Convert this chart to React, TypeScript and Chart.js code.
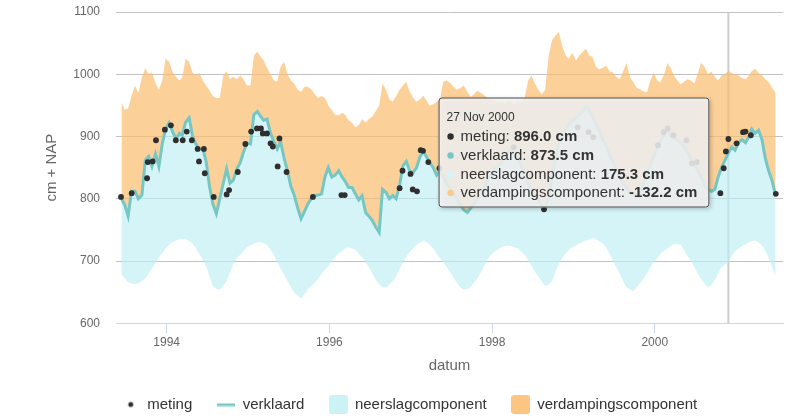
import React, { useEffect, useRef } from "react";
import { Chart, registerables } from "chart.js";

Chart.register(...registerables);

const FONT = "'Liberation Sans', Arial, Helvetica, sans-serif";

// Half-monthly series (12th and 27th of each month), June 1993 .. June 2001
const startJaar = 1993;
const startMaand = 6;
const dagen = [12, 27];

const verklaard = [
  800, 790, 772, 812, 812, 800, 806, 862, 868, 852, 872, 852, 888, 912, 922, 908, 896, 905, 902, 923,
  930, 900, 888, 880, 880, 860, 820, 792, 776, 800, 825, 848, 825, 830, 848, 858, 875, 889, 888, 935,
  940, 932, 926, 928, 905, 892, 880, 892, 865, 845, 820, 806, 785, 768, 780, 792, 800, 805, 806, 808,
  835, 850, 835, 838, 845, 835, 828, 818, 818, 808, 798, 805, 778, 772, 765, 755, 746, 815, 810, 800,
  805, 800, 822, 853, 860, 845, 842, 850, 868, 876, 868, 858, 850, 838, 845, 835, 825, 815, 808, 798,
  790, 782, 778, 785, 792, 800, 812, 818, 830, 838, 848, 852, 858, 866, 874, 880, 872, 865, 852, 840,
  825, 815, 805, 798, 788, 786, 800, 835, 865, 888, 900, 912, 920, 925, 930, 935, 940, 948, 942, 932,
  920, 910, 895, 885, 870, 860, 845, 835, 825, 818, 810, 806, 803, 808, 825, 838, 855, 868, 882, 892,
  905, 910, 902, 898, 894, 890, 882, 875, 862, 855, 845, 835, 822, 815, 812, 815, 835, 850, 862, 873.5,
  883, 878, 890, 895, 890, 900, 912, 905, 910, 895, 865, 845, 828, 806,
];

// upper edge of the evaporation band (verklaard - verdampingscomponent)
const verdampingBovengrens = [
  955, 943, 945, 965, 982, 970, 995, 1010, 1000, 1003, 985, 975, 990, 1025, 1020, 1004, 996, 990, 995, 1025,
  1020, 1003, 998, 1002, 990, 982, 974, 965, 962, 962, 998, 1005, 992, 996, 992, 998, 992, 982, 982, 1030,
  1036, 1028, 1022, 1010, 1000, 990, 988, 1012, 1020, 1000, 990, 985, 975, 972, 980, 980, 976, 968, 962, 965,
  962, 950, 942, 935, 934, 938, 935, 926, 922, 915, 918, 928, 922, 928, 932, 940, 950, 985, 975, 960,
  956, 965, 975, 982, 988, 972, 962, 956, 960, 966, 958, 950, 952, 956, 960, 988, 990, 986, 980, 975,
  978, 982, 972, 964, 968, 974, 970, 966, 962, 960, 958, 955, 956, 952, 958, 955, 952, 958, 955, 962,
  990, 998, 985, 975, 968, 975, 1030, 1055, 1062, 1068, 1045, 1030, 1025, 1035, 1022, 1030, 1036, 1041, 1030, 1028,
  1012, 1008, 1010, 1014, 1005, 1003, 996, 992, 1005, 1018, 995, 987, 978, 976, 972, 971, 990, 1003, 990, 987,
  1000, 1018, 1010, 998, 990, 984, 988, 992, 990, 985, 1000, 1018, 1012, 1000, 1004, 996, 990, 998, 1000, 1005.7,
  1002, 1000, 998, 994, 992, 998, 1005, 1009, 1002, 998, 992, 987, 978, 970,
];

// lower edge of the precipitation band (verklaard - neerslagcomponent)
const neerslagOndergrens = [
  678, 672, 666, 664, 663, 664, 668, 672, 680, 688, 697, 706, 713, 720, 726, 730, 733, 735, 736, 735,
  732, 728, 720, 712, 702, 692, 675, 660, 655, 654, 660, 668, 682, 696, 704, 710, 716, 722, 725, 728,
  730, 730, 728, 726, 718, 710, 698, 688, 678, 668, 658, 650, 644, 640, 647, 655, 660, 665, 672, 680,
  686, 692, 700, 706, 712, 716, 720, 722, 720, 718, 712, 706, 698, 690, 680, 670, 663, 658, 658, 662,
  668, 675, 687, 698, 707, 714, 720, 726, 730, 733, 730, 726, 720, 712, 705, 698, 690, 682, 673, 665,
  658, 654, 655, 658, 665, 672, 682, 692, 702, 710, 715, 718, 722, 724, 725, 724, 722, 720, 715, 710,
  702, 692, 683, 675, 667, 660, 662, 668, 682, 695, 705, 712, 718, 722, 725, 728, 731, 733, 735, 737,
  735, 732, 728, 722, 712, 700, 690, 680, 668, 658, 654, 652, 658, 665, 672, 680, 690, 698, 705, 712,
  716, 720, 724, 727, 727, 726, 718, 708, 700, 690, 680, 672, 664, 658, 662, 670, 680, 690, 694, 698.2,
  708, 716, 720, 724, 727, 730, 732, 733, 730, 725, 716, 705, 690, 675,
];

const metingDatums = [
  "1993-06-10", "1993-07-28", "1993-10-05", "1993-10-08", "1993-10-30", "1993-11-14",
  "1993-12-24", "1994-01-20", "1994-02-11", "1994-03-14", "1994-04-01", "1994-04-24",
  "1994-05-20", "1994-05-26", "1994-06-17", "1994-06-21", "1994-07-31", "1994-09-27",
  "1994-10-08", "1994-11-16", "1994-12-20", "1995-01-15", "1995-02-10", "1995-02-28",
  "1995-03-08", "1995-03-27", "1995-04-12", "1995-04-22", "1995-05-14", "1995-05-22",
  "1995-06-23", "1995-10-19", "1996-02-24", "1996-03-10", "1996-11-12", "1996-11-25",
  "1996-12-31", "1997-01-10", "1997-01-29", "1997-02-15", "1997-02-25", "1997-03-21",
  "1997-05-10", "1998-04-08", "1998-08-22", "1999-01-20", "1999-03-10", "1999-03-31",
  "2000-01-15", "2000-02-10", "2000-02-28", "2000-03-25", "2000-05-22", "2000-06-16",
  "2000-07-08", "2000-10-22", "2000-11-06", "2000-11-16", "2000-11-27", "2001-01-03",
  "2001-02-01", "2001-02-12", "2001-03-08", "2001-06-28",
];

const metingWaarden = [
  803, 809, 833, 859, 860, 894,
  911, 918, 894, 894, 908, 894,
  880, 860, 880, 841, 803, 807,
  814, 843, 888, 908, 913, 913,
  905, 905, 889, 884, 852, 897,
  843, 803, 806, 806, 817, 845,
  840, 815, 812, 878, 877, 859,
  849, 883, 783, 915, 907, 899,
  886, 907, 913, 902, 894, 857,
  859, 809, 849, 876, 896.0, 889,
  907, 908, 902, 808,
];

const yTicks = [600, 700, 800, 900, 1000, 1100];
const xTickJaren = [1994, 1996, 1998, 2000];
const xMin = 1993.377;
const xMax = 2001.576;
const tooltipDatum = "2000-11-27";
const maandNamen = ["Jan", "Feb", "Mar", "Apr", "May", "Jun", "Jul", "Aug", "Sep", "Oct", "Nov", "Dec"];

const KLEUR_METING = "#2f2f2f";
const KLEUR_VERKLAARD = "#76c7c4";
const KLEUR_NEERSLAG_VLAK = "rgba(190,238,243,0.65)";
const KLEUR_VERDAMPING_VLAK = "rgba(251,188,110,0.7)";
const KLEUR_NEERSLAG_LEGENDA = "#cbf2f5";
const KLEUR_VERDAMPING_LEGENDA = "#fdc582";

const reeksDatums = verklaard.map((_, i) => {
  const m = startMaand - 1 + Math.floor(i / 2);
  const y = startJaar + Math.floor(m / 12);
  const mm = (m % 12) + 1;
  return `${y}-${String(mm).padStart(2, "0")}-${dagen[i % 2]}`;
});

function jaarFractie(d: string): number {
  const [y, m, dd] = d.split("-").map(Number);
  const t = Date.UTC(y, m - 1, dd);
  const a = Date.UTC(y, 0, 1);
  const b = Date.UTC(y + 1, 0, 1);
  return y + (t - a) / (b - a);
}

function maakMarker(kind: string, color: string): HTMLCanvasElement {
  const c = document.createElement("canvas");
  if (kind === "dot") {
    c.width = 10; c.height = 10;
    const g = c.getContext("2d")!;
    g.fillStyle = color; g.beginPath(); g.arc(5, 5, 2.5, 0, Math.PI * 2); g.fill();
  } else if (kind === "line") {
    c.width = 18; c.height = 4;
    const g = c.getContext("2d")!;
    g.fillStyle = color; g.fillRect(0, 1, 18, 2.5);
  } else {
    c.width = 19; c.height = 19;
    const g = c.getContext("2d")!;
    g.fillStyle = color; g.beginPath();
    (g as any).roundRect(0, 0, 19, 19, 3); g.fill();
  }
  return c;
}

export default function App() {
  const ref = useRef<HTMLCanvasElement | null>(null);

  useEffect(() => {
    if (!ref.current) return;
    const xs = reeksDatums.map(jaarFractie);
    const verklaardPts = xs.map((x, i) => ({ x, y: verklaard[i] }));
    const neerslagPts = xs.map((x, i) => ({ x, y: neerslagOndergrens[i] }));
    const verdampingPts = xs.map((x, i) => ({ x, y: verdampingBovengrens[i] }));
    const metingPts = metingDatums.map((d, i) => ({ x: jaarFractie(d), y: metingWaarden[i] }));

    const markers = [
      { text: "meting", style: maakMarker("dot", KLEUR_METING) },
      { text: "verklaard", style: maakMarker("line", KLEUR_VERKLAARD) },
      { text: "neerslagcomponent", style: maakMarker("box", KLEUR_NEERSLAG_LEGENDA) },
      { text: "verdampingscomponent", style: maakMarker("box", KLEUR_VERDAMPING_LEGENDA) },
    ];

    const tipX = jaarFractie(tooltipDatum);

    const legendShift = {
      id: "legendShift",
      afterLayout(chart: any) {
        if (chart.legend) { chart.legend.left += 18; chart.legend.right += 18; }
      },
    };

    const crosshair = {
      id: "crosshair",
      beforeDatasetsDraw(chart: any) {
        const { ctx, chartArea } = chart;
        const px = chart.scales.x.getPixelForValue(tipX);
        ctx.save();
        ctx.strokeStyle = "rgba(200,200,200,0.9)";
        ctx.lineWidth = 2;
        ctx.beginPath(); ctx.moveTo(px, chartArea.top); ctx.lineTo(px, chartArea.bottom); ctx.stroke();
        ctx.restore();
      },
    };

    const tooltipBox = {
      id: "tooltipBox",
      afterDraw(chart: any) {
        const { ctx } = chart;
        const idx = reeksDatums.indexOf(tooltipDatum);
        const mIdx = metingDatums.indexOf(tooltipDatum);
        const px = chart.scales.x.getPixelForValue(tipX);
        const [yy, mm, dd] = tooltipDatum.split("-").map(Number);
        const kop = `${dd} ${maandNamen[mm - 1]} ${yy}`;
        const rows = [
          { c: KLEUR_METING, l: "meting: ", v: metingWaarden[mIdx] },
          { c: KLEUR_VERKLAARD, l: "verklaard: ", v: verklaard[idx] },
          { c: "#d4f4f7", l: "neerslagcomponent: ", v: verklaard[idx] - neerslagOndergrens[idx] },
          { c: "#fcc88e", l: "verdampingscomponent: ", v: verklaard[idx] - verdampingBovengrens[idx] },
        ];
        const fN = `15px ${FONT}`;
        const fB = `bold 15px ${FONT}`;
        let maxW = 0;
        rows.forEach((r) => {
          ctx.font = fN; const a = ctx.measureText(r.l).width;
          ctx.font = fB; const b = ctx.measureText(`${r.v.toFixed(1)} cm`).width;
          maxW = Math.max(maxW, a + b);
        });
        const W = 22 + maxW + 12;
        const H = 110;
        const R = px - 19;
        const L = R - W;
        const T = 97.5;
        ctx.save();
        ctx.shadowColor = "rgba(0,0,0,0.28)";
        ctx.shadowBlur = 4; ctx.shadowOffsetX = 1.5; ctx.shadowOffsetY = 1.5;
        ctx.fillStyle = "rgba(247,247,247,0.85)";
        ctx.beginPath(); ctx.roundRect(L, T, W, H, 3); ctx.fill();
        ctx.restore();
        ctx.save();
        ctx.strokeStyle = "#4a4a4a"; ctx.lineWidth = 1;
        ctx.beginPath(); ctx.roundRect(L + 0.5, T + 0.5, W - 1, H - 1, 3); ctx.stroke();
        ctx.textBaseline = "middle";
        ctx.fillStyle = "#333";
        ctx.font = `12px ${FONT}`;
        ctx.fillText(kop, L + 8, T + 20);
        const ys = [T + 39, T + 58, T + 77, T + 95.5];
        rows.forEach((r, i) => {
          ctx.fillStyle = r.c;
          ctx.beginPath(); ctx.arc(L + 12, ys[i], 3.2, 0, Math.PI * 2); ctx.fill();
          ctx.fillStyle = "#333";
          ctx.font = fN; ctx.fillText(r.l, L + 22, ys[i]);
          const a = ctx.measureText(r.l).width;
          ctx.font = fB; ctx.fillText(`${r.v.toFixed(1)} cm`, L + 22 + a, ys[i]);
        });
        ctx.restore();
      },
    };

    const chart = new Chart(ref.current, {
      type: "line",
      data: {
        datasets: [
          {
            label: "meting", data: metingPts, showLine: false,
            pointRadius: 2.9, pointBackgroundColor: KLEUR_METING, pointBorderWidth: 0,
            borderColor: KLEUR_METING,
          },
          {
            label: "verklaard", data: verklaardPts, borderColor: KLEUR_VERKLAARD,
            borderWidth: 3, pointRadius: 0, tension: 0, fill: false,
          },
          {
            label: "neerslagcomponent", data: neerslagPts, borderWidth: 0, pointRadius: 0,
            borderColor: "rgba(0,0,0,0)", backgroundColor: KLEUR_NEERSLAG_VLAK, fill: 1, tension: 0,
          },
          {
            label: "verdampingscomponent", data: verdampingPts, borderWidth: 0, pointRadius: 0,
            borderColor: "rgba(0,0,0,0)", backgroundColor: KLEUR_VERDAMPING_VLAK, fill: 1, tension: 0,
          },
        ] as any,
      },
      options: {
        responsive: false,
        animation: false,
        events: [],
        layout: { padding: { top: 12, right: 16, left: 0, bottom: 0 } },
        scales: {
          x: {
            type: "linear", min: xMin, max: xMax,
            afterBuildTicks: (s: any) => { s.ticks = xTickJaren.map((v) => ({ value: v })); },
            afterFit: (s: any) => { s.height = 48.7; s.paddingTop = 0; s.paddingBottom = 0; },
            grid: { drawOnChartArea: false, drawTicks: true, tickLength: 10, color: "#ccd6eb", tickColor: "#ccd6eb" },
            border: { color: "#ccd6eb", width: 1 },
            ticks: {
              callback: (v: any) => String(v), color: "#666", font: { size: 12, family: FONT },
              padding: 2, maxRotation: 0, autoSkip: false,
            },
            title: { display: true, text: "datum", color: "#666", font: { size: 15, family: FONT }, padding: { top: 0, bottom: -3 } },
          },
          y: {
            min: 600, max: 1100,
            afterBuildTicks: (s: any) => { s.ticks = yTicks.map((v) => ({ value: v })); },
            afterFit: (s: any) => { s.width = 116; s.paddingTop = 0; s.paddingBottom = 0; },
            grid: {
              drawTicks: false, lineWidth: 1,
              color: (c: any) => (c.tick && c.tick.value === 600 ? "rgba(0,0,0,0)" : "#c2c2c2"),
            },
            border: { display: false },
            ticks: { callback: (v: any) => String(v), color: "#666", font: { size: 12, family: FONT }, padding: 16 },
            title: { display: true, text: "cm + NAP", color: "#666", font: { size: 15, family: FONT }, padding: { top: 43, bottom: 0 } },
          },
        } as any,
        plugins: {
          tooltip: { enabled: false },
          legend: {
            position: "bottom",
            labels: {
              usePointStyle: true, pointStyleWidth: 18, padding: 25, color: "#333",
              font: { size: 15, family: FONT },
              generateLabels: () => markers.map((m, i) => ({
                text: m.text, pointStyle: m.style as any, fillStyle: "rgba(0,0,0,0)",
                strokeStyle: "rgba(0,0,0,0)", lineWidth: 0, hidden: false, datasetIndex: i, fontColor: "#333",
              })),
            },
          },
        } as any,
      },
      plugins: [legendShift, crosshair, tooltipBox],
    });
    return () => chart.destroy();
  }, []);

  return (
    <div style={{ position: "fixed", left: 0, top: 0, width: 799, height: 422 }}>
      <canvas ref={ref} width={799} height={422} style={{ display: "block" }} />
    </div>
  );
}
